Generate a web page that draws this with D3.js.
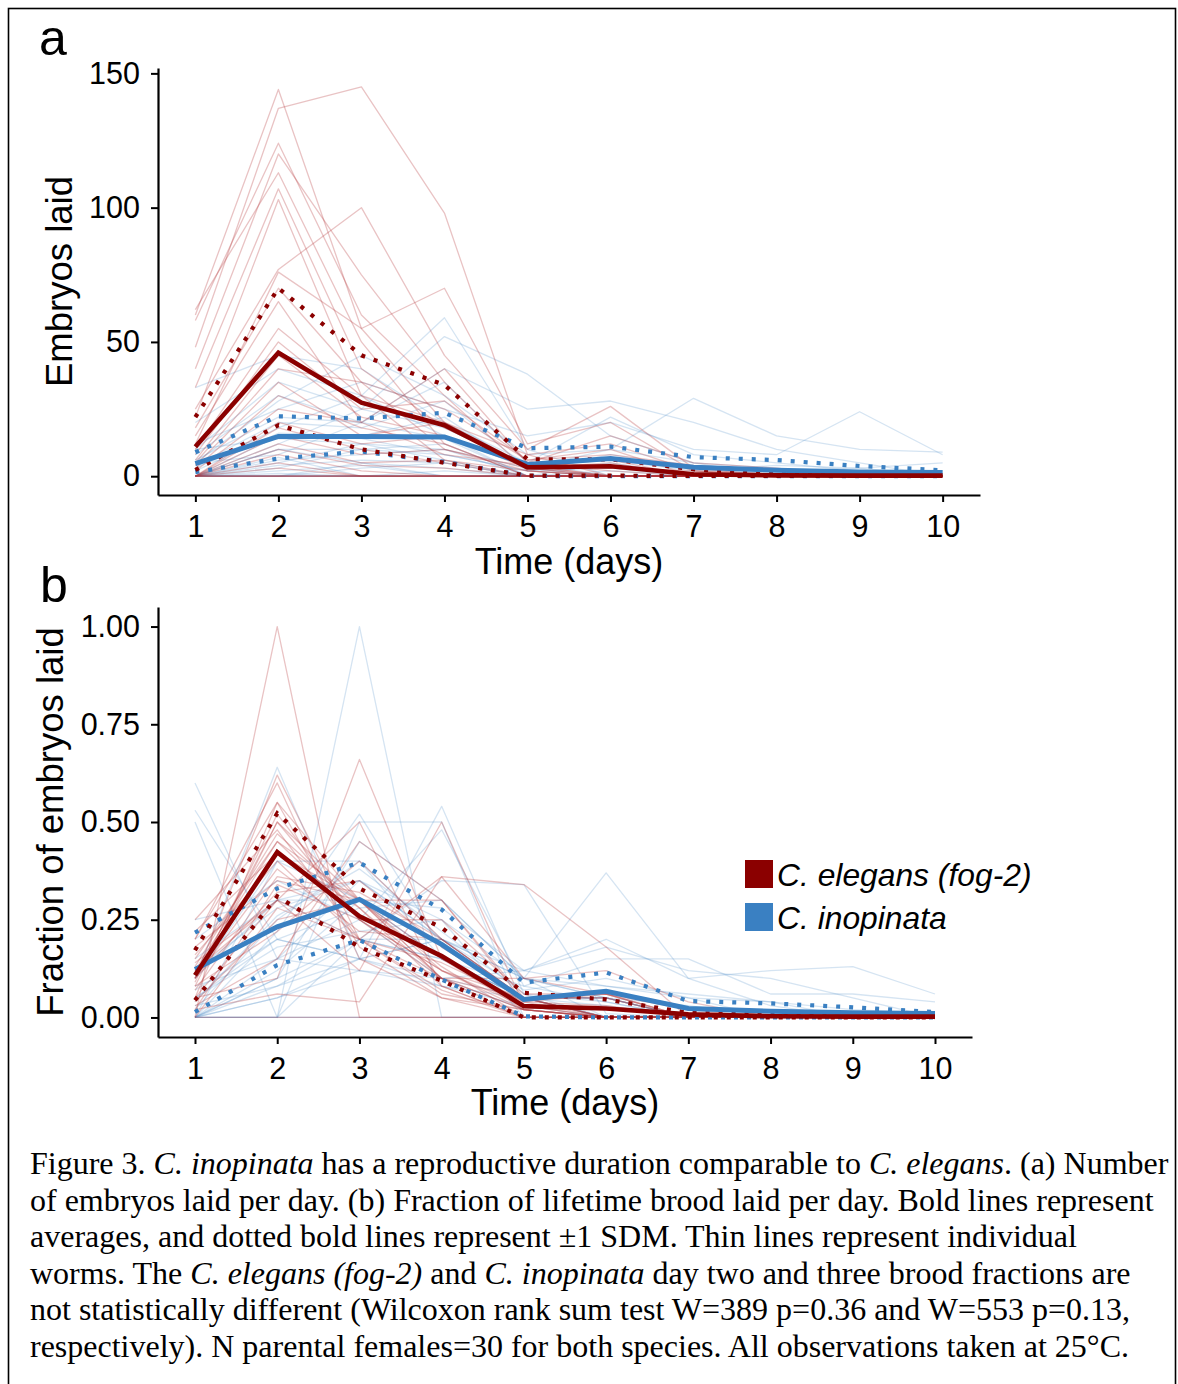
<!DOCTYPE html>
<html>
<head>
<meta charset="utf-8">
<script src="https://cdn.jsdelivr.net/npm/d3@7"></script>
<style>
  html, body { margin: 0; padding: 0; background: #fff; }
  svg { display: block; }
  .tick text { font-family: "Liberation Sans", Arial, sans-serif; fill: #000; }
</style>
</head>
<body>
<svg id="fig" width="1178" height="1384"></svg>
<script>
// ---- shared categories -------------------------------------------------
const days = [1, 2, 3, 4, 5, 6, 7, 8, 9, 10];
const species = ["C. elegans (fog-2)", "C. inopinata"];
const embryoTicks = [0, 50, 100, 150];
const fractionTicks = [0, 0.25, 0.5, 0.75, 1];
const fractionTickLabels = ["0.00", "0.25", "0.50", "0.75", "1.00"];

// ---- (a) embryos laid per day, individual worms -------------------------
const elegansCounts = [
  [60, 144, 55, 20, 3, 0, 0, 0, 0, 0],
  [48, 137, 145, 98, 8, 0, 0, 0, 0, 0],
  [58, 124, 60, 30, 2, 0, 0, 0, 0, 0],
  [40, 120, 75, 35, 5, 2, 0, 0, 0, 0],
  [62, 113, 50, 12, 0, 0, 0, 0, 0, 0],
  [33, 107, 40, 18, 4, 0, 0, 0, 0, 0],
  [22, 103, 30, 6, 0, 0, 0, 0, 0, 0],
  [25, 77, 100, 45, 10, 26, 3, 0, 0, 0],
  [12, 76, 55, 70, 12, 20, 2, 0, 0, 0],
  [18, 70, 35, 25, 6, 10, 0, 0, 0, 0],
  [15, 65, 20, 40, 5, 15, 5, 3, 0, 0],
  [10, 55, 30, 20, 4, 0, 0, 0, 0, 0],
  [8, 50, 25, 28, 6, 8, 4, 2, 0, 0],
  [6, 45, 22, 15, 3, 5, 0, 0, 0, 0],
  [5, 40, 35, 10, 2, 0, 0, 0, 0, 0],
  [4, 35, 15, 20, 8, 12, 2, 1, 1, 0],
  [3, 30, 18, 12, 0, 0, 0, 0, 0, 0],
  [2, 25, 20, 8, 4, 6, 0, 0, 0, 0],
  [0, 20, 12, 15, 5, 3, 2, 0, 0, 0],
  [0, 18, 10, 5, 0, 0, 0, 0, 0, 0],
  [0, 15, 8, 10, 3, 0, 0, 0, 0, 0],
  [0, 12, 5, 6, 2, 0, 0, 0, 0, 0],
  [0, 10, 4, 3, 0, 0, 0, 0, 0, 0],
  [0, 8, 2, 0, 0, 0, 0, 0, 0, 0],
  [0, 5, 0, 0, 0, 0, 0, 0, 0, 0],
  [0, 3, 0, 0, 0, 0, 0, 0, 0, 0],
  [0, 0, 0, 0, 0, 0, 0, 0, 0, 0],
  [0, 0, 0, 0, 0, 0, 0, 0, 0, 0],
  [0, 0, 0, 0, 0, 0, 0, 0, 0, 0],
  [0, 0, 0, 0, 0, 0, 0, 0, 0, 0]
];
const inopinataCounts = [
  [33, 45, 40, 20, 5, 0, 0, 0, 0, 0],
  [20, 40, 30, 59, 10, 0, 0, 0, 0, 0],
  [10, 35, 25, 52, 38, 15, 5, 0, 0, 0],
  [8, 30, 20, 40, 25, 28, 20, 10, 5, 0],
  [5, 28, 45, 30, 8, 10, 29, 15, 10, 9],
  [12, 25, 35, 25, 15, 20, 10, 8, 24, 8],
  [6, 22, 20, 35, 5, 22, 8, 5, 2, 1],
  [4, 20, 18, 28, 3, 10, 5, 3, 0, 0],
  [3, 18, 30, 15, 0, 5, 0, 2, 3, 5],
  [2, 16, 15, 22, 2, 8, 3, 0, 0, 0],
  [10, 14, 12, 10, 0, 0, 0, 0, 0, 0],
  [0, 12, 25, 18, 4, 6, 2, 4, 3, 0],
  [0, 10, 10, 12, 0, 0, 0, 0, 0, 0],
  [0, 15, 14, 8, 2, 3, 0, 0, 0, 0],
  [5, 8, 20, 14, 0, 2, 0, 0, 0, 0],
  [0, 6, 8, 10, 3, 0, 0, 0, 0, 0],
  [0, 5, 12, 6, 0, 0, 0, 0, 0, 0],
  [0, 4, 6, 5, 0, 0, 0, 0, 0, 0],
  [0, 10, 5, 3, 0, 0, 0, 0, 0, 0],
  [0, 3, 10, 8, 2, 0, 0, 0, 0, 0],
  [0, 2, 4, 0, 0, 0, 0, 0, 0, 0],
  [0, 0, 3, 5, 0, 0, 0, 0, 0, 0],
  [0, 0, 0, 2, 0, 0, 0, 0, 0, 0],
  [0, 7, 0, 0, 0, 0, 0, 0, 0, 0],
  [0, 0, 5, 0, 0, 0, 0, 0, 0, 0],
  [0, 1, 0, 0, 0, 0, 0, 0, 0, 0],
  [0, 0, 0, 0, 0, 0, 0, 0, 0, 0],
  [0, 0, 0, 0, 0, 0, 0, 0, 0, 0],
  [0, 0, 0, 0, 0, 0, 0, 0, 0, 0],
  [0, 0, 0, 0, 0, 0, 0, 0, 0, 0]
];

// (a) averages and ±1 SDM bands
const elegansCountMean  = [11, 46, 27.4, 19, 3.3, 3.7, 0.7, 0.3, 0.2, 0.2];
const elegansCountUpper = [22, 70, 45, 34, 6.3, 6.3, 2.6, 0.7, 0.6, 0.6];
const elegansCountLower = [2.3, 19, 10, 5, 0.2, 0.2, 0.1, 0.1, 0.1, 0.1];
const inopinataCountMean  = [4.7, 14.8, 14.8, 14.6, 4.4, 6.6, 3.3, 2.2, 1.6, 1.4];
const inopinataCountUpper = [8.9, 22.3, 21.5, 23.6, 10.4, 11, 7.1, 6, 3.8, 2.2];
const inopinataCountLower = [1.5, 6.6, 9.2, 5.3, 0.1, 0, 0, 0, 0, 0];

// ---- (b) fraction of lifetime brood laid per day ------------------------
const elegansFractions = [
  [0, 1, 0, 0, 0, 0, 0, 0, 0, 0],
  [0.1, 0.62, 0.2, 0.06, 0.02, 0, 0, 0, 0, 0],
  [0.2, 0.55, 0.18, 0.05, 0.02, 0, 0, 0, 0, 0],
  [0.05, 0.1, 0.66, 0.15, 0.04, 0, 0, 0, 0, 0],
  [0.08, 0.5, 0.3, 0.1, 0.02, 0, 0, 0, 0, 0],
  [0.25, 0.48, 0.2, 0.07, 0, 0, 0, 0, 0, 0],
  [0.15, 0.45, 0.25, 0.12, 0.03, 0, 0, 0, 0, 0],
  [0.22, 0.42, 0.28, 0.08, 0, 0, 0, 0, 0, 0],
  [0.12, 0.3, 0.5, 0.08, 0, 0, 0, 0, 0, 0],
  [0.1, 0.38, 0.22, 0.2, 0.05, 0.05, 0, 0, 0, 0],
  [0.18, 0.35, 0.3, 0.15, 0.02, 0, 0, 0, 0, 0],
  [0.05, 0.3, 0.12, 0.5, 0.03, 0, 0, 0, 0, 0],
  [0.02, 0.34, 0.25, 0.25, 0.06, 0.06, 0.02, 0, 0, 0],
  [0.1, 0.32, 0.35, 0.18, 0.05, 0, 0, 0, 0, 0],
  [0, 0.28, 0.2, 0.36, 0.1, 0.06, 0, 0, 0, 0],
  [0.02, 0.06, 0.04, 0.36, 0.34, 0.18, 0, 0, 0, 0],
  [0.04, 0.25, 0.3, 0.3, 0.05, 0.06, 0, 0, 0, 0],
  [0.14, 0.3, 0.2, 0.1, 0.1, 0.12, 0.04, 0, 0, 0],
  [0.08, 0.22, 0.4, 0.2, 0.05, 0.05, 0, 0, 0, 0],
  [0.03, 0.15, 0.45, 0.3, 0.04, 0.03, 0, 0, 0, 0],
  [0.1, 0.5, 0.25, 0.1, 0.05, 0, 0, 0, 0, 0],
  [0.12, 0.45, 0.3, 0.13, 0, 0, 0, 0, 0, 0],
  [0.16, 0.4, 0.2, 0.14, 0.04, 0.06, 0, 0, 0, 0],
  [0.07, 0.36, 0.32, 0.2, 0.05, 0, 0, 0, 0, 0],
  [0.05, 0.55, 0.3, 0.1, 0, 0, 0, 0, 0, 0],
  [0.2, 0.6, 0.15, 0.05, 0, 0, 0, 0, 0, 0],
  [0.13, 0.47, 0.28, 0.1, 0.02, 0, 0, 0, 0, 0],
  [0.09, 0.52, 0.25, 0.12, 0.02, 0, 0, 0, 0, 0],
  [0.11, 0.42, 0.3, 0.12, 0.05, 0, 0, 0, 0, 0],
  [0, 0, 0, 0, 0, 0, 0, 0, 0, 0]
];
const inopinataFractions = [
  [0, 0, 1, 0, 0, 0, 0, 0, 0, 0],
  [0.6, 0.15, 0.12, 0.08, 0.05, 0, 0, 0, 0, 0],
  [0.53, 0.2, 0.15, 0.1, 0.02, 0, 0, 0, 0, 0],
  [0.5, 0, 0.2, 0.2, 0.1, 0, 0, 0, 0, 0],
  [0.1, 0.64, 0.15, 0.08, 0.03, 0, 0, 0, 0, 0],
  [0.05, 0.2, 0.15, 0.54, 0.06, 0, 0, 0, 0, 0],
  [0, 0.1, 0.2, 0.35, 0.34, 0.01, 0, 0, 0, 0],
  [0, 0.05, 0.15, 0.2, 0.1, 0.37, 0.1, 0.03, 0, 0],
  [0.08, 0.15, 0.35, 0.2, 0.07, 0.1, 0.05, 0, 0, 0],
  [0.15, 0.3, 0.3, 0.15, 0.05, 0.05, 0, 0, 0, 0],
  [0.1, 0.4, 0.3, 0.15, 0.05, 0, 0, 0, 0, 0],
  [0.02, 0.25, 0.4, 0.2, 0.05, 0.05, 0.03, 0, 0, 0],
  [0, 0.1, 0.45, 0.3, 0.1, 0.05, 0, 0, 0, 0],
  [0.2, 0.35, 0.25, 0.1, 0.05, 0.05, 0, 0, 0, 0],
  [0.05, 0.18, 0.22, 0.25, 0.1, 0.08, 0.05, 0.04, 0.02, 0.01],
  [0, 0.12, 0.3, 0.28, 0.12, 0.08, 0.06, 0.04, 0, 0],
  [0.03, 0.08, 0.2, 0.15, 0.08, 0.15, 0.15, 0.06, 0.06, 0.04],
  [0, 0.05, 0.12, 0.1, 0.12, 0.2, 0.1, 0.12, 0.13, 0.06],
  [0.12, 0.28, 0.35, 0.2, 0.05, 0, 0, 0, 0, 0],
  [0, 0.22, 0.52, 0.18, 0.05, 0.03, 0, 0, 0, 0],
  [0.25, 0.3, 0.2, 0.15, 0.05, 0.05, 0, 0, 0, 0],
  [0, 0.15, 0.25, 0.48, 0.08, 0.04, 0, 0, 0, 0],
  [0.04, 0.26, 0.38, 0.22, 0.06, 0.04, 0, 0, 0, 0],
  [0, 0.4, 0.4, 0.15, 0.05, 0, 0, 0, 0, 0],
  [0, 0, 0.5, 0.5, 0, 0, 0, 0, 0, 0],
  [0.07, 0.2, 0.28, 0.3, 0.1, 0.05, 0, 0, 0, 0],
  [0, 0.08, 0.15, 0.2, 0.12, 0.18, 0.12, 0.1, 0.05, 0],
  [0.1, 0.3, 0.35, 0.25, 0, 0, 0, 0, 0, 0],
  [0, 0, 0, 0, 0, 0, 0, 0, 0, 0],
  [0, 0, 0, 0, 0, 0, 0, 0, 0, 0]
];

// (b) averages and ±1 SDM bands
const elegansFracMean  = [0.108, 0.423, 0.259, 0.157, 0.029, 0.023, 0.008, 0.003, 0.002, 0.002];
const elegansFracUpper = [0.172, 0.522, 0.33, 0.23, 0.063, 0.046, 0.012, 0.006, 0.004, 0.004];
const elegansFracLower = [0.044, 0.31, 0.18, 0.094, 0, 0, 0, 0, 0, 0];
const inopinataFracMean  = [0.123, 0.232, 0.302, 0.187, 0.046, 0.067, 0.023, 0.016, 0.012, 0.01];
const inopinataFracUpper = [0.217, 0.33, 0.396, 0.276, 0.089, 0.115, 0.042, 0.036, 0.026, 0.014];
const inopinataFracLower = [0.014, 0.134, 0.198, 0.097, 0.003, 0, 0, 0, 0, 0];

// ---- caption --------------------------------------------------------------
const captionLines = [
  [["Figure 3. ", false], ["C. inopinata", true], [" has a reproductive duration comparable to ", false], ["C. elegans", true], [". (a) Number", false]],
  [["of embryos laid per day. (b) Fraction of lifetime brood laid per day. Bold lines represent", false]],
  [["averages, and dotted bold lines represent \u00b11 SDM. Thin lines represent individual", false]],
  [["worms. The ", false], ["C. elegans (fog-2)", true], [" and ", false], ["C. inopinata", true], [" day two and three brood fractions are", false]],
  [["not statistically different (Wilcoxon rank sum test W=389 p=0.36 and W=553 p=0.13,", false]],
  [["respectively). N parental females=30 for both species. All observations taken at 25\u00b0C.", false]]
];

// ---- styling ----------------------------------------------------------------
const colors = { elegans: "#8b0000", inopinata: "#3a80c2" };
const thin = { elegans: "#b5383a", inopinata: "#5b95cc" };
const sans = "'Liberation Sans', Arial, Helvetica, sans-serif";

const svg = d3.select("#fig");

// outer frame of the figure
svg.append("rect")
  .attr("x", 8.5).attr("y", 8.5)
  .attr("width", 1167).attr("height", 1420)
  .attr("fill", "none").attr("stroke", "#000").attr("stroke-width", 1.6);

function drawPanel(cfg) {
  const g = svg.append("g");
  const x = d3.scaleLinear().domain([0.55, 10.45]).range([cfg.left, cfg.right]);
  const y = d3.scaleLinear().domain(cfg.yDomain).range([cfg.bottom, cfg.top]);

  const line = d3.line().x((d, i) => x(days[i])).y(d => y(d));

  // individual worms
  const thinLayer = g.append("g");
  [[cfg.indiv[1], thin.inopinata, 0.26], [cfg.indiv[0], thin.elegans, 0.3]].forEach(([rows, col, op]) => {
    thinLayer.selectAll(null).data(rows).join("path")
      .attr("d", line)
      .attr("fill", "none")
      .attr("stroke", col)
      .attr("stroke-opacity", op)
      .attr("stroke-width", 1.3)
      .attr("stroke-linejoin", "round");
  });

  // ±1 SDM dotted lines, then averages
  const bands = [
    [cfg.inopBand, colors.inopinata],
    [cfg.elegBand, colors.elegans]
  ];
  bands.forEach(([band, col]) => {
    g.selectAll(null).data(band).join("path")
      .attr("d", line)
      .attr("fill", "none")
      .attr("stroke", col)
      .attr("stroke-width", 4.2)
      .attr("stroke-dasharray", "4 9")
      .attr("stroke-linecap", "butt");
  });
  [[cfg.inopMean, colors.inopinata, 5], [cfg.elegMean, colors.elegans, 4.6]].forEach(([m, col, w]) => {
    g.append("path")
      .attr("d", line(m))
      .attr("fill", "none")
      .attr("stroke", col)
      .attr("stroke-width", w)
      .attr("stroke-linejoin", "miter");
  });

  // axes
  const yAxis = d3.axisLeft(y).tickValues(cfg.yTicks).tickSize(7).tickSizeOuter(0).tickPadding(11)
    .tickFormat((d, i) => cfg.yLabels[i]);
  const xAxis = d3.axisBottom(x).tickValues(days).tickSize(7).tickSizeOuter(0).tickPadding(13)
    .tickFormat(d3.format("d"));

  const ya = g.append("g").attr("transform", `translate(${cfg.left},0)`).call(yAxis);
  const xa = g.append("g").attr("transform", `translate(0,${cfg.bottom})`).call(xAxis);
  [ya, xa].forEach(a => {
    a.select(".domain").attr("stroke", "#000").attr("stroke-width", 2.2);
    a.selectAll(".tick line").attr("stroke", "#000").attr("stroke-width", 2);
    a.selectAll(".tick text").attr("font-size", 30.5).attr("font-family", sans).attr("fill", "#000");
  });

  // titles
  g.append("text")
    .attr("x", (cfg.left + cfg.right) / 2).attr("y", cfg.xTitleY)
    .attr("text-anchor", "middle")
    .attr("font-family", sans).attr("font-size", 36)
    .text("Time (days)");
  g.append("text")
    .attr("transform", `translate(${cfg.yTitleX},${(cfg.top + cfg.bottom) / 2}) rotate(-90)`)
    .attr("text-anchor", "middle")
    .attr("font-family", sans).attr("font-size", 36.5)
    .text(cfg.yTitle);
  g.append("text")
    .attr("x", cfg.tagX).attr("y", cfg.tagY)
    .attr("font-family", sans).attr("font-size", 50)
    .text(cfg.tag);

  return { x, y };
}

drawPanel({
  tag: "a", tagX: 39, tagY: 55,
  left: 158, right: 980, top: 68, bottom: 495,
  yDomain: [-7, 152],
  yTicks: embryoTicks, yLabels: embryoTicks.map(String),
  yTitle: "Embryos laid", yTitleX: 72,
  xTitleY: 574,
  indiv: [elegansCounts, inopinataCounts],
  elegMean: elegansCountMean, elegBand: [elegansCountUpper, elegansCountLower],
  inopMean: inopinataCountMean, inopBand: [inopinataCountUpper, inopinataCountLower]
});

drawPanel({
  tag: "b", tagX: 40, tagY: 602,
  left: 158, right: 972, top: 607, bottom: 1037,
  yDomain: [-0.05, 1.05],
  yTicks: fractionTicks, yLabels: fractionTickLabels,
  yTitle: "Fraction of embryos laid", yTitleX: 63,
  xTitleY: 1115,
  indiv: [elegansFractions, inopinataFractions],
  elegMean: elegansFracMean, elegBand: [elegansFracUpper, elegansFracLower],
  inopMean: inopinataFracMean, inopBand: [inopinataFracUpper, inopinataFracLower]
});

// legend
const legend = svg.append("g").attr("transform", "translate(745,860)");
legend.selectAll(null).data(species).join("g")
  .attr("transform", (d, i) => `translate(0,${i * 43})`)
  .each(function(d, i) {
    const row = d3.select(this);
    row.append("rect").attr("width", 28).attr("height", 28)
      .attr("fill", i === 0 ? colors.elegans : colors.inopinata);
    row.append("text").attr("x", 32).attr("y", 26)
      .attr("font-family", sans).attr("font-size", 31.8).attr("font-style", "italic")
      .text(d);
  });

// caption
const cap = svg.append("text")
  .attr("font-family", "'Liberation Serif', 'Times New Roman', serif")
  .attr("font-size", 32)
  .attr("fill", "#000");
captionLines.forEach((parts, li) => {
  const t = cap.append("tspan").attr("x", 30).attr("y", 1174 + li * 36.6);
  parts.forEach(([str, it], k) => {
    const s = k === 0 ? t : cap.append("tspan");
    s.text(str).attr("font-style", it ? "italic" : "normal");
  });
});
</script>
</body>
</html>
